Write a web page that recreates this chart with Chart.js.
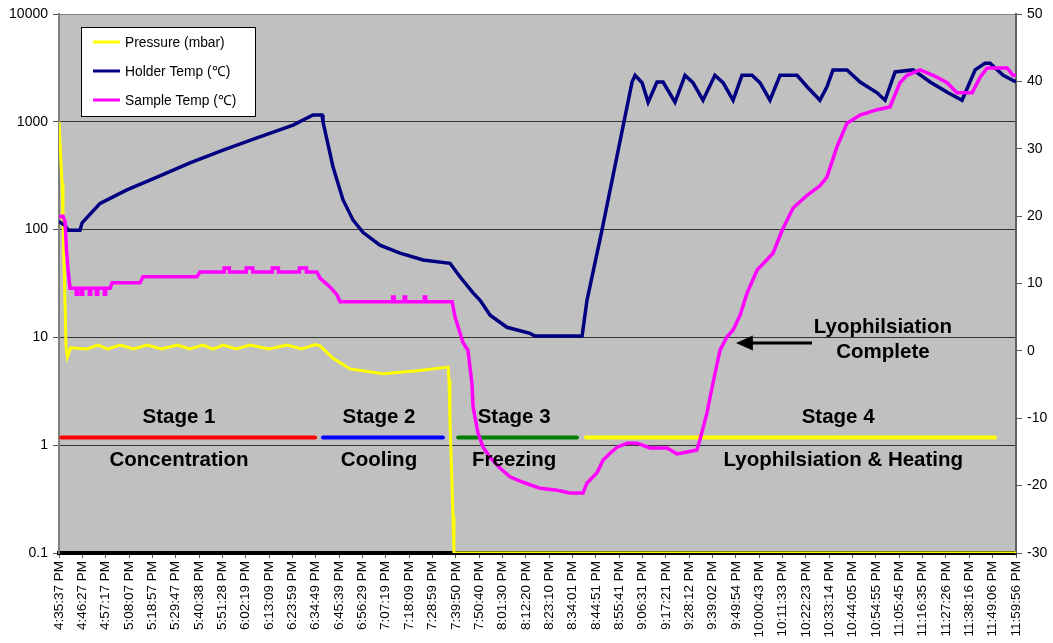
<!DOCTYPE html>
<html>
<head>
<meta charset="utf-8">
<script src="https://cdn.jsdelivr.net/npm/chart.js@4.4.1/dist/chart.umd.min.js"></script>
<style>
  html, body { margin: 0; padding: 0; background: #fff; }
  #wrap { width: 1053px; height: 643px; }
</style>
</head>
<body>
<div id="wrap"><canvas id="chart" width="1053" height="643"></canvas></div>
<script>
const FONT = "'Liberation Sans', Arial, sans-serif";

// x axis: one unit = one label step
const timeLabels = [
  "4:35:37 PM", "4:46:27 PM", "4:57:17 PM", "5:08:07 PM", "5:18:57 PM", "5:29:47 PM",
  "5:40:38 PM", "5:51:28 PM", "6:02:19 PM", "6:13:09 PM", "6:23:59 PM", "6:34:49 PM",
  "6:45:39 PM", "6:56:29 PM", "7:07:19 PM", "7:18:09 PM", "7:28:59 PM", "7:39:50 PM",
  "7:50:40 PM", "8:01:30 PM", "8:12:20 PM", "8:23:10 PM", "8:34:01 PM", "8:44:51 PM",
  "8:55:41 PM", "9:06:31 PM", "9:17:21 PM", "9:28:12 PM", "9:39:02 PM", "9:49:54 PM",
  "10:00:43 PM", "10:11:33 PM", "10:22:23 PM", "10:33:14 PM", "10:44:05 PM", "10:54:55 PM",
  "11:05:45 PM", "11:16:35 PM", "11:27:26 PM", "11:38:16 PM", "11:49:06 PM", "11:59:56 PM",
];

const pressureTicks = [0.1, 1, 10, 100, 1000, 10000];

// [time step, mbar]
const pressurePts = [
  [0, 1000], [0.09, 400], [0.13, 270], [0.17, 126], [0.22, 45], [0.26, 20], [0.3, 8.3],
  [0.36, 6.6], [0.5, 8.0], [1.2, 7.8], [1.67, 8.5], [2.1, 7.8], [2.61, 8.5], [3.2, 7.8],
  [3.77, 8.5], [4.4, 7.8], [5.06, 8.5], [5.6, 7.8], [6.17, 8.5], [6.6, 7.8], [7.03, 8.5],
  [7.6, 7.8], [8.18, 8.5], [9.0, 7.8], [9.77, 8.5], [10.4, 7.8], [10.97, 8.6], [11.2, 8.3],
  [11.74, 6.4], [12.47, 5.1], [13.88, 4.6], [15.34, 4.9], [16.67, 5.3], [16.71, 4.0],
  [16.75, 1.7], [16.88, 0.22], [16.92, 0.1], [41, 0.1],
];

// [time step, degC]
const holderPts = [
  [0, 19.2], [0.26, 18.6], [0.39, 17.9], [0.9, 17.9], [0.99, 19.0], [1.76, 21.9], [2.91, 23.9],
  [4.2, 25.8], [5.61, 27.9], [7.03, 29.8], [8.48, 31.6], [10.03, 33.5], [10.88, 35.0],
  [11.27, 35.0], [11.31, 34.0], [11.74, 27.3], [12.17, 22.4], [12.6, 19.4], [13.02, 17.6],
  [13.75, 15.7], [14.61, 14.5], [15.6, 13.5], [16.75, 13.0], [17.18, 11.0], [17.74, 8.6],
  [18.04, 7.5], [18.47, 5.3], [19.19, 3.5], [20.18, 2.6], [20.39, 2.2], [22.41, 2.2],
  [22.62, 7.5], [23.26, 17.9], [24.55, 39.9], [24.68, 40.9], [24.98, 39.8], [25.24, 36.9],
  [25.62, 39.9], [25.88, 39.9], [26.39, 36.9], [26.82, 40.9], [27.16, 39.8], [27.59, 37.2],
  [28.1, 40.9], [28.45, 39.8], [28.88, 37.2], [29.26, 40.9], [29.69, 40.9], [30.03, 39.8],
  [30.46, 37.2], [30.89, 40.9], [31.62, 40.9], [32.05, 39.2], [32.6, 37.2], [32.9, 39.2],
  [33.16, 41.7], [33.76, 41.7], [34.32, 39.9], [35.05, 38.3], [35.39, 37.2], [35.82, 41.4],
  [36.59, 41.7], [37.32, 39.9], [38.09, 38.3], [38.69, 37.2], [39.25, 41.7], [39.67, 42.7],
  [39.89, 42.7], [40.45, 40.9], [41, 39.9],
];

const samplePts = [
  [0, 19.9], [0.17, 20.0], [0.26, 19.2], [0.32, 15.0], [0.39, 12.0], [0.47, 9.3],
  [0.74, 9.3], [0.74, 8.4], [0.8, 8.4], [0.8, 9.3], [0.96, 9.3], [0.96, 8.4], [1.02, 8.4], [1.02, 9.3],
  [1.3, 9.3], [1.3, 8.4], [1.36, 8.4], [1.36, 9.3], [1.6, 9.3], [1.6, 8.4], [1.66, 8.4], [1.66, 9.3],
  [1.94, 9.3], [1.94, 8.4], [2.0, 8.4], [2.0, 9.3], [2.19, 9.3],
  [2.27, 10.1], [3.47, 10.1], [3.6, 11.0], [5.91, 11.0], [6.04, 11.7],
  [7.08, 11.7], [7.08, 12.3], [7.3, 12.3], [7.3, 11.7], [8.02, 11.7], [8.02, 12.3], [8.3, 12.3], [8.3, 11.7],
  [9.14, 11.7], [9.14, 12.3], [9.4, 12.3], [9.4, 11.7], [10.3, 11.7], [10.3, 12.3], [10.6, 12.3], [10.6, 11.7],
  [11.05, 11.7],
  [11.18, 10.8], [11.61, 9.5], [11.91, 8.3], [12.04, 7.3],
  [14.3, 7.3], [14.3, 8.0], [14.36, 8.0], [14.36, 7.3], [14.79, 7.3], [14.79, 8.0], [14.85, 8.0], [14.85, 7.3],
  [15.65, 7.3], [15.65, 8.0], [15.71, 8.0], [15.71, 7.3],
  [16.84, 7.3], [16.97, 5.0],
  [17.31, 1.2], [17.52, 0.1], [17.69, -4.8], [17.74, -8.3], [17.95, -12.2], [18.17, -14.3],
  [18.47, -15.8], [18.89, -17.4], [19.32, -18.7], [19.88, -19.5], [20.61, -20.4],
  [21.34, -20.7], [21.89, -21.1], [22.45, -21.1], [22.62, -19.6], [23.05, -18.1],
  [23.31, -16.2], [23.61, -15.2], [23.91, -14.3], [24.34, -13.7], [24.76, -13.7],
  [25.32, -14.4], [26.05, -14.4], [26.48, -15.3], [26.91, -15.0], [27.33, -14.7],
  [27.46, -13.2], [27.76, -9.2], [27.98, -5.4], [28.32, 0.1], [28.62, 2.1], [28.88, 3.1],
  [29.18, 5.3], [29.48, 8.6], [29.91, 12.0], [30.59, 14.5], [30.98, 17.9], [31.45, 21.2],
  [32.05, 23.1], [32.6, 24.5], [32.9, 25.8], [33.33, 30.3], [33.76, 33.8], [34.32, 35.0],
  [35.05, 35.8], [35.6, 36.2], [36.03, 39.8], [36.33, 40.9], [36.89, 41.7], [37.45, 40.9],
  [38.05, 39.8], [38.47, 38.3], [39.12, 38.3], [39.46, 40.6], [39.76, 42.0], [40.62, 42.0],
  [40.87, 40.9], [41, 40.9],
];

const stageNames = ["Stage 1", "Stage 2", "Stage 3", "Stage 4"];
const stageTasks = ["Concentration", "Cooling", "Freezing", "Lyophilsiation & Heating"];
const stageSpans = [[0.09, 10.97], [11.31, 16.45], [17.1, 22.19], [22.58, 40.1]];
const stageColors = ["#ff0000", "#0000ff", "#008000", "#ffff00"];
const stageLevel = 1.18;

const toXY = (pts) => pts.map(([x, y]) => ({ x, y }));

const stageSets = stageSpans.map((span, i) => ({
  label: stageNames[i],
  data: span.map((x) => ({ x, y: stageLevel })),
  yAxisID: "y",
  borderColor: stageColors[i],
  borderWidth: 4,
  borderCapStyle: "round",
  pointRadius: 0,
  order: 4,
}));

const plotFrame = {
  id: "plotFrame",
  beforeDraw(chart) {
    const { ctx, chartArea: a } = chart;
    ctx.save();
    ctx.fillStyle = "#c0c0c0";
    ctx.fillRect(a.left, a.top, a.right - a.left, a.bottom - a.top);
    ctx.strokeStyle = "#808080";
    ctx.lineWidth = 1;
    ctx.beginPath();
    ctx.moveTo(a.left, a.top + 0.5);
    ctx.lineTo(a.right, a.top + 0.5);
    ctx.stroke();
    ctx.restore();
  },
};

// stage texts + arrow, positions in data units
const notes = {
  id: "notes",
  afterDatasetsDraw(chart, args, opts) {
    const { ctx } = chart;
    const xs = chart.scales.x;
    const ys = chart.scales.y;
    ctx.save();
    ctx.fillStyle = "#000";
    ctx.font = `bold 20.5px ${FONT}`;
    ctx.textAlign = "center";
    ctx.textBaseline = "middle";
    stageNames.forEach((name, i) => {
      ctx.fillText(name, xs.getPixelForValue(opts.nameX[i]), ys.getPixelForValue(opts.nameY));
      ctx.fillText(stageTasks[i], xs.getPixelForValue(opts.taskX[i]), ys.getPixelForValue(opts.taskY));
    });
    opts.done.lines.forEach((t, i) => {
      ctx.fillText(t, xs.getPixelForValue(opts.done.x), ys.getPixelForValue(opts.done.y[i]));
    });
    // arrow
    const ay = Math.round(ys.getPixelForValue(opts.arrow.y));
    const x0 = xs.getPixelForValue(opts.arrow.from);
    const x1 = xs.getPixelForValue(opts.arrow.to);
    ctx.strokeStyle = "#000";
    ctx.lineWidth = 3;
    ctx.beginPath();
    ctx.moveTo(x0, ay);
    ctx.lineTo(x1 + 14, ay);
    ctx.stroke();
    ctx.beginPath();
    ctx.moveTo(x1, ay);
    ctx.lineTo(x1 + 17, ay - 7.5);
    ctx.lineTo(x1 + 17, ay + 7.5);
    ctx.closePath();
    ctx.fill();
    ctx.restore();
  },
};

const boxLegend = {
  id: "boxLegend",
  afterDraw(chart) {
    const { ctx } = chart;
    const sets = chart.data.datasets.slice(0, 3);
    ctx.save();
    ctx.fillStyle = "#fff";
    ctx.fillRect(81.5, 27.5, 174, 89);
    ctx.strokeStyle = "#000";
    ctx.lineWidth = 1;
    ctx.strokeRect(81.5, 27.5, 174, 89);
    ctx.font = `13.8px ${FONT}`;
    ctx.textBaseline = "middle";
    sets.forEach((ds, i) => {
      const y = 42 + i * 29;
      ctx.strokeStyle = ds.borderColor;
      ctx.lineWidth = 3;
      ctx.beginPath();
      ctx.moveTo(93, y);
      ctx.lineTo(120, y);
      ctx.stroke();
      ctx.fillStyle = "#000";
      ctx.fillText(ds.label, 125, y + 1);
    });
    ctx.restore();
  },
};

new Chart(document.getElementById("chart"), {
  type: "line",
  data: {
    datasets: [
      {
        label: "Pressure (mbar)",
        data: toXY(pressurePts),
        yAxisID: "y",
        borderColor: "#ffff00",
        borderWidth: 3,
        pointRadius: 0,
        order: 3,
      },
      {
        label: "Holder Temp (\u2103)",
        data: toXY(holderPts),
        yAxisID: "y1",
        borderColor: "#000080",
        borderWidth: 3.5,
        pointRadius: 0,
        order: 2,
      },
      {
        label: "Sample Temp (\u2103)",
        data: toXY(samplePts),
        yAxisID: "y1",
        borderColor: "#ff00ff",
        borderWidth: 3.5,
        pointRadius: 0,
        order: 1,
      },
      ...stageSets,
    ],
  },
  options: {
    responsive: false,
    animation: false,
    layout: { padding: { top: 14, left: 0, right: 0, bottom: 0 } },
    plugins: {
      legend: { display: false },
      tooltip: { enabled: false },
      notes: {
        nameX: [5.14, 13.71, 19.5, 33.38],
        taskX: [5.14, 13.71, 19.5, 33.6],
        nameY: 1.83,
        taskY: 0.73,
        done: { lines: ["Lyophilsiation", "Complete"], x: 35.3, y: [12.5, 7.3] },
        arrow: { from: 32.26, to: 29.0, y: 8.9 },
      },
    },
    scales: {
      x: {
        type: "linear",
        min: 0,
        max: timeLabels.length - 1,
        afterBuildTicks: (s) => { s.ticks = timeLabels.map((_, i) => ({ value: i })); },
        afterFit: (s) => { s.height = 90; },
        ticks: {
          autoSkip: false,
          minRotation: 90,
          maxRotation: 90,
          padding: 3,
          color: "#000",
          font: { family: FONT, size: 13.5 },
          callback: (v) => timeLabels[v],
        },
        grid: { drawOnChartArea: false, drawTicks: true, tickLength: 5, tickColor: "#555" },
        border: { color: "#000", width: 4 },
      },
      y: {
        type: "logarithmic",
        position: "left",
        min: 0.1,
        max: 10000,
        afterBuildTicks: (s) => { s.ticks = pressureTicks.map((v) => ({ value: v })); },
        afterFit: (s) => { s.width = 59; },
        ticks: {
          color: "#000",
          padding: 5,
          font: { family: FONT, size: 14 },
          callback: (v) => String(v),
        },
        grid: {
          color: (c) => (c.tick && (c.tick.value === 0.1 || c.tick.value === 10000) ? "rgba(0,0,0,0)" : "#333"),
          tickColor: "#555",
          tickLength: 6,
          lineWidth: 1,
        },
        border: { color: "#808080", width: 2 },
      },
      y1: {
        type: "linear",
        position: "right",
        min: -30,
        max: 50,
        afterFit: (s) => { s.width = 37; },
        ticks: { stepSize: 10, color: "#000", padding: 5, font: { family: FONT, size: 14 } },
        grid: { drawOnChartArea: false, tickColor: "#555", tickLength: 6 },
        border: { color: "#606060", width: 2 },
      },
    },
  },
  plugins: [plotFrame, notes, boxLegend],
});
</script>
</body>
</html>
